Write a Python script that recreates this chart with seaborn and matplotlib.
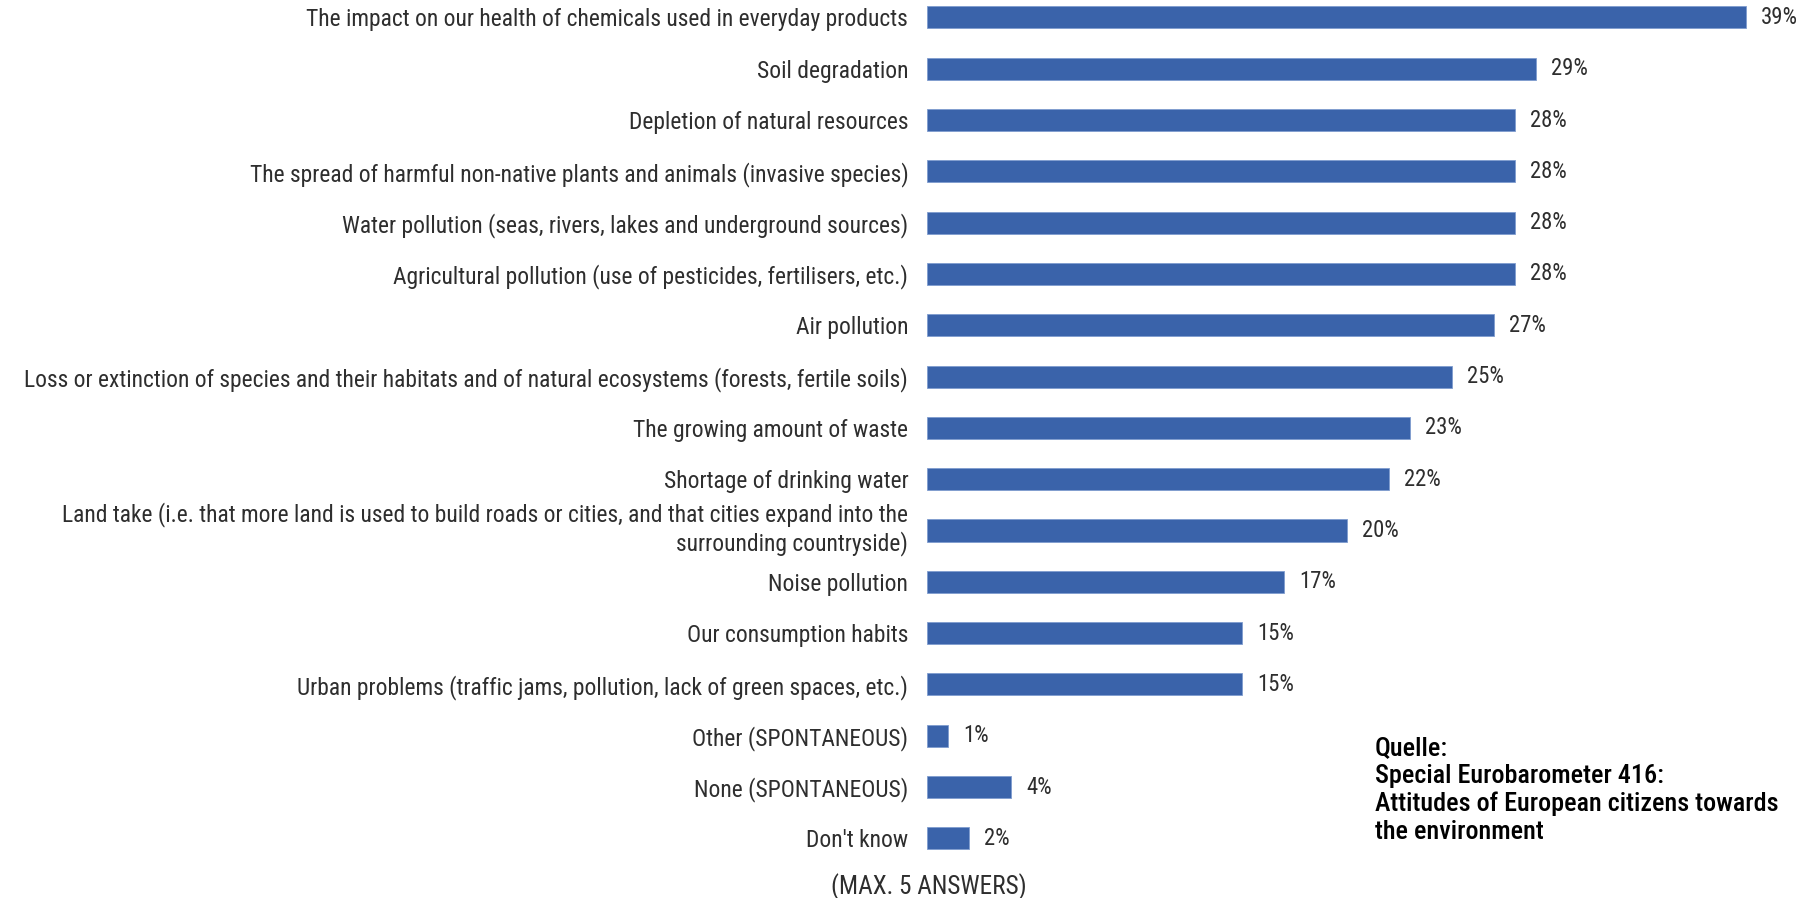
import matplotlib
matplotlib.use("Agg")
import matplotlib.pyplot as plt
from matplotlib import font_manager as fm
from matplotlib.transforms import ScaledTranslation
import seaborn as sns
import pandas as pd

categories = [
    "The impact on our health of chemicals used in everyday products",
    "Soil degradation",
    "Depletion of natural resources",
    "The spread of harmful non-native plants and animals (invasive species)",
    "Water pollution (seas, rivers, lakes and underground sources)",
    "Agricultural pollution (use of pesticides, fertilisers, etc.)",
    "Air pollution",
    "Loss or extinction of species and their habitats and of natural ecosystems (forests, fertile soils)",
    "The growing amount of waste",
    "Shortage of drinking water",
    "Land take (i.e. that more land is used to build roads or cities, and that cities expand into the\nsurrounding countryside)",
    "Noise pollution",
    "Our consumption habits",
    "Urban problems (traffic jams, pollution, lack of green spaces, etc.)",
    "Other (SPONTANEOUS)",
    "None (SPONTANEOUS)",
    "Don't know",
]
values = [39, 29, 28, 28, 28, 28, 27, 25, 23, 22, 20, 17, 15, 15, 1, 4, 2]
footnote = "(MAX. 5 ANSWERS)"
source_text = "Quelle:\nSpecial Eurobarometer 416:\nAttitudes of European citizens towards\nthe environment"

df = pd.DataFrame({"category": categories, "value": values})

sns.set_theme(style="white")

# pick a narrow font if one is installed
names = {(f.name, str(f.stretch)) for f in fm.fontManager.ttflist}
fam, stretch = "DejaVu Sans", "normal"
for cand in ["Liberation Sans Narrow", "Roboto Condensed", "Open Sans Condensed"]:
    if any(n == cand for n, _ in names):
        fam = cand
        break
else:
    if any(n == "DejaVu Sans" and s in ("condensed", "semi-condensed", "75", "87") for n, s in names):
        stretch = "condensed"
plt.rcParams["font.family"] = [fam, "DejaVu Sans"]
plt.rcParams["font.stretch"] = stretch

W, H = 1818, 898
fig = plt.figure(figsize=(W / 100, H / 100), dpi=100)
renderer = fig.canvas.get_renderer()


def fit_size(text, target_px, base=16.0, **kw):
    t = fig.text(0, 0, text, fontsize=base, **kw)
    w = t.get_window_extent(renderer=renderer).width
    t.remove()
    return base * target_px / w


lab_size = min(fit_size(categories[7], 890), fit_size(categories[0], 625) * 1.02)
val_size = fit_size("39%", 37)
src_size = fit_size("Attitudes of European citizens towards", 405, fontweight="medium")
foot_size = fit_size(footnote, 197)

left = 927 / W
bottom = 1 - 864 / H
top = 1 - 2 / H
ax = fig.add_axes([left, bottom, 1 - left - 0.002, top - bottom])

sns.barplot(data=df, x="value", y="category", color="#3A63AA", saturation=1,
            width=0.43, ax=ax, orient="h")
for p in ax.patches:
    p.set_edgecolor("#7F9CCF")
    p.set_linewidth(0.6)

ax.set_xlim(0, (W * (1 - 0.002) - 927) / 21.0)
ax.set_ylim(16.5, -0.3)
ax.set_xlabel("")
ax.set_ylabel("")
ax.set_xticks([])
for s in ax.spines.values():
    s.set_visible(False)
ax.tick_params(axis="y", length=0, pad=13.5, labelsize=lab_size, labelcolor="#2e2e2e")

# nudge the two-line label slightly upward, as in the original
for lbl in ax.get_yticklabels():
    if "\n" in lbl.get_text():
        lbl.set_transform(lbl.get_transform() + ScaledTranslation(0, 0.06, fig.dpi_scale_trans))

ax.bar_label(ax.containers[0], fmt="%d%%", padding=11, fontsize=val_size, color="#2e2e2e")

fig.text(929 / W, 1 - 887 / H, footnote, ha="center", va="center",
         fontsize=foot_size, color="#2e2e2e")
fig.text(1375 / W, 1 - 736 / H, source_text, ha="left", va="top",
         fontsize=src_size, color="#000000", linespacing=1.2, fontweight="medium")

fig.savefig("out.png", dpi=100)
